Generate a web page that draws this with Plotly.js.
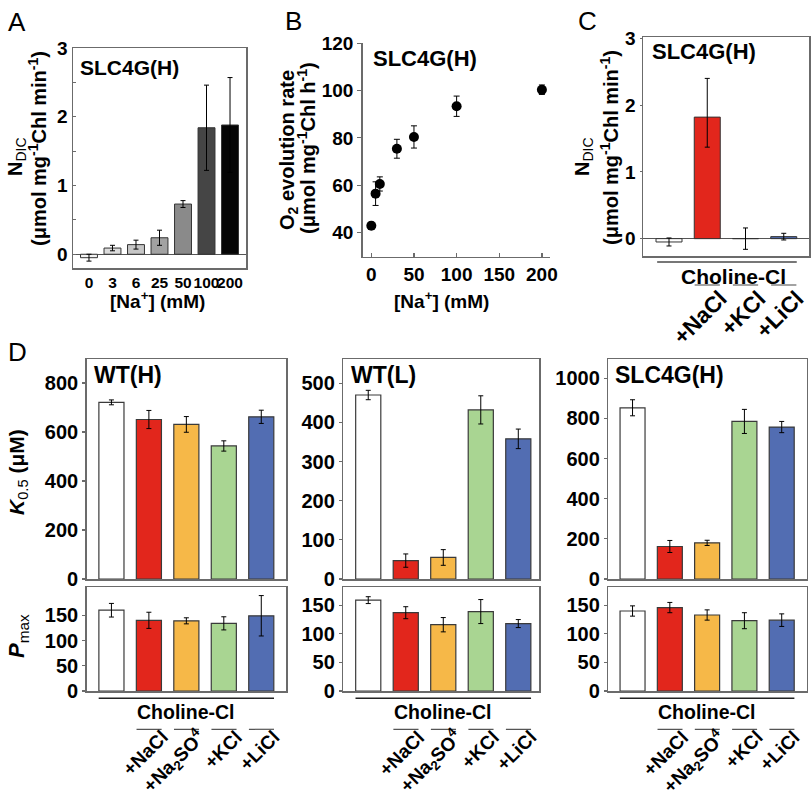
<!DOCTYPE html>
<html><head><meta charset="utf-8">
<script src="https://cdn.plot.ly/plotly-3.0.1.min.js"></script>
<style>html,body{margin:0;padding:0;background:#fff}#chart{width:812px;height:800px}</style>
</head><body><div id="chart"></div>
<script>
// ---------- Panel A ----------
const naLabelsA = ['0', '3', '6', '25', '50', '100', '200'];
const ndicA = [-0.05, 0.09, 0.14, 0.24, 0.73, 1.84, 1.88];
const ndicAErr = [0.05, 0.04, 0.065, 0.11, 0.05, 0.62, 0.69];
const grayA = ['#f4f4f4', '#dcdcdc', '#c6c6c6', '#a2a2a2', '#8a8a8a', '#454545', '#050505'];

// ---------- Panel B ----------
const naB = [0, 5, 10, 30, 50, 100, 200];
const o2B = [42.8, 56.4, 60.5, 75.4, 80.4, 93.4, 100.4];
const o2BErr = [1.5, 5, 3, 4, 4.7, 4.3, 2];
const ticksBx = [0, 50, 100, 150, 200];
const ticksBy = [40, 60, 80, 100, 120];

// ---------- Panel C ----------
const catsC = ['Choline-Cl', '+NaCl', '+KCl', '+LiCl'];
const saltLabelsC = ['+NaCl', '+KCl', '+LiCl'];
const ndicC = [-0.05, 1.82, 0.0, 0.03];
const ndicCErrPlus = [0.06, 0.58, 0.16, 0.05];
const ndicCErrMinus = [0.06, 0.45, 0.16, 0.05];
const colorsC = ['#ffffff', '#e2261c', '#a9d592', '#526db2'];

// ---------- Panel D ----------
const catsD = ['Choline-Cl', '+NaCl', '+Na2SO4', '+KCl', '+LiCl'];
const saltLabelsD = ['+NaCl', '+Na<sub>2</sub>SO<sup>4</sup>', '+KCl', '+LiCl'];
const colorsD = ['#ffffff', '#e2261c', '#f6b848', '#a9d592', '#526db2'];
const strainsD = ['WT(H)', 'WT(L)', 'SLC4G(H)'];
const k05WTH = [721, 651, 631, 543, 662];
const k05WTHErr = [10, 37, 32, 21, 27];
const pmaxWTH = [160, 140, 139, 134, 149];
const pmaxWTHErr = [13.5, 16, 6, 13, 40];
const k05WTL = [470, 47, 55, 432, 358];
const k05WTLErr = [12, 17, 20, 36, 25];
const pmaxWTL = [159, 137, 116, 139, 118];
const pmaxWTLErr = [6, 10.5, 12.5, 21, 7];
const k05SLC = [853, 162, 180, 785, 757];
const k05SLCErr = [40, 30, 13, 60, 28];
const pmaxSLC = [140, 146, 133, 123, 124];
const pmaxSLCErr = [9, 9, 9, 14, 11];
const k05Ticks = [[0, 200, 400, 600, 800], [0, 100, 200, 300, 400, 500], [0, 200, 400, 600, 800, 1000]];
const pmaxTicks = [0, 50, 100, 150];

// ---------- helpers ----------
const W = 812, H = 800;
const fx = p => p / W;
const fy = p => 1 - p / H;
const FONT = 'Arial, "Liberation Sans", Helvetica, sans-serif';
const LINE = '#6b6b6b';
// pixel position of a category index on an axis spanning [x0,x1] px with range r
const idxPx = (x0, x1, r, i) => x0 + (i - r[0]) / (r[1] - r[0]) * (x1 - x0);

const ctx = document.createElement('canvas').getContext('2d');
function labelWidth(html, size) {
  let w = 0;
  const re = /<(sub|sup)>(.*?)<\/\1>/g;
  let last = 0, m;
  const meas = (s, sz) => { ctx.font = 'bold ' + sz + 'px ' + FONT; return ctx.measureText(s).width; };
  while ((m = re.exec(html)) !== null) {
    w += meas(html.slice(last, m.index), size);
    w += meas(m[2], size * 0.7);
    last = re.lastIndex;
  }
  w += meas(html.slice(last), size);
  return w;
}

function axis(extra) {
  return Object.assign({
    showgrid: false, zeroline: false, showline: true, linecolor: LINE, linewidth: 1.5,
    fixedrange: true, tickcolor: LINE, tickwidth: 1.2,
    tickfont: {family: FONT, size: 19, weight: 'bold', color: '#000'}
  }, extra);
}
const annotations = [];
const shapes = [];
function ann(text, x, y, o) {
  o = o || {};
  annotations.push({
    text: text, x: x, y: y, xref: o.xref || 'paper', yref: o.yref || 'paper', showarrow: false,
    xanchor: o.xanchor || 'center', yanchor: o.yanchor || 'middle', textangle: o.angle || 0,
    font: {family: FONT, size: o.size || 19, weight: o.weight || 'bold', color: '#000'}
  });
}
// rotated (-45 deg) label whose rightmost glyph point is near xr px and topmost near yt px
function diagLabel(text, xr, yt, size) {
  const L = labelWidth(text, size);
  const h = 0.72 * size;
  const d = 0.354 * (L + h);
  ann(text, fx(xr - d + 6), fy(yt + d), {angle: -45, size: size});
}
function hline(xref, x0, x1, ypx, color, width) {
  shapes.push({type: 'line', xref: xref, yref: 'paper', x0: x0, x1: x1, y0: fy(ypx), y1: fy(ypx),
    line: {color: color, width: width}});
}
const errStyle = {type: 'data', visible: true, color: '#000', thickness: 1, width: 2.5};

const traces = [];
const layout = {
  width: W, height: H, margin: {l: 0, r: 0, t: 0, b: 0},
  paper_bgcolor: '#fff', plot_bgcolor: 'rgba(0,0,0,0)', showlegend: false,
  font: {family: FONT, color: '#000'}
};

// ---------- A ----------
traces.push({type: 'bar', x: naLabelsA, y: ndicA, xaxis: 'x', yaxis: 'y', width: 0.72,
  marker: {color: grayA, line: {color: '#333', width: 1}},
  error_y: Object.assign({array: ndicAErr}, errStyle)});
layout.xaxis = axis({domain: [fx(73), fx(246)], anchor: 'y', type: 'category', range: [-0.68, 6.68],
  mirror: true, ticks: '', tickangle: 0, tickfont: {family: FONT, size: 15.5, weight: 'bold', color: '#000'}});
layout.yaxis = axis({domain: [fy(268), fy(48)], anchor: 'x', range: [-0.2, 3.0], mirror: true,
  zeroline: true, zerolinecolor: '#555', zerolinewidth: 1.2, tickvals: [0, 1, 2, 3],
  ticks: 'inside', ticklen: 3, minor: {dtick: 0.5, ticks: 'inside', ticklen: 3, tickcolor: LINE}});
ann('SLC4G(H)', fx(78), fy(67), {xanchor: 'left', size: 21});
ann('<b>N</b><sub>DIC</sub>', fx(16), fy(157), {angle: -90, weight: 'normal', size: 20});
ann('(μmol mg<sup>-1</sup>Chl min<sup>-1</sup>)', fx(37), fy(149), {angle: -90, size: 20});
ann('[Na<sup>+</sup>] (mM)', fx(157), fy(300), {size: 19});
ann('A', fx(17), fy(22), {size: 26, weight: 'normal'});

// ---------- B ----------
traces.push({type: 'scatter', mode: 'markers', x: naB, y: o2B, xaxis: 'x2', yaxis: 'y2',
  marker: {size: 10, color: '#000'},
  error_y: Object.assign({array: o2BErr}, errStyle, {width: 3})});
layout.xaxis2 = axis({domain: [fx(362.7), fx(550)], anchor: 'y2', range: [-10.1, 209.5],
  tickvals: ticksBx, ticks: 'inside', ticklen: 4});
layout.yaxis2 = axis({domain: [fy(256.7), fy(42.7)], anchor: 'x2', range: [29.7, 120.3],
  tickvals: ticksBy, ticks: 'outside', ticklen: 4});
ann('SLC4G(H)', fx(371), fy(58), {xanchor: 'left', size: 22});
ann('O<sub>2</sub> evolution rate', fx(288), fy(150), {angle: -90, size: 20});
ann('(μmol mg<sup>-1</sup>Chl h<sup>-1</sup>)', fx(306), fy(148), {angle: -90, size: 20});
ann('[Na<sup>+</sup>] (mM)', fx(441), fy(300), {size: 19});
ann('B', fx(293), fy(21), {size: 26, weight: 'normal'});

// ---------- C ----------
const cX0 = 643, cX1 = 809, cRange = [-0.68, 3.66];
traces.push({type: 'bar', x: catsC, y: ndicC, xaxis: 'x3', yaxis: 'y3', width: 0.68,
  marker: {color: colorsC, line: {color: '#333', width: 1}},
  error_y: Object.assign({array: ndicCErrPlus, arrayminus: ndicCErrMinus, symmetric: false}, errStyle)});
layout.xaxis3 = axis({domain: [fx(cX0), fx(cX1)], anchor: 'y3', type: 'category', range: cRange,
  mirror: true, ticks: '', showticklabels: false});
layout.yaxis3 = axis({domain: [fy(256), fy(37)], anchor: 'x3', range: [-0.26, 3.02], mirror: true,
  zeroline: true, zerolinecolor: '#555', zerolinewidth: 1.2, tickvals: [0, 1, 2, 3], ticks: 'outside', ticklen: 2});
ann('SLC4G(H)', fx(650), fy(52), {xanchor: 'left', size: 22});
ann('<b>N</b><sub>DIC</sub>', fx(583), fy(157), {angle: -90, weight: 'normal', size: 20});
ann('(μmol mg<sup>-1</sup>Chl min<sup>-1</sup>)', fx(609), fy(148), {angle: -90, size: 20});
ann('C', fx(587), fy(21), {size: 26, weight: 'normal'});
hline('x3', -0.31, 3.34, 262, '#777', 1.8);
ann('Choline-Cl', fx(733), fy(276), {size: 21});
saltLabelsC.forEach((lab, j) => {
  const i = j + 1;
  hline('x3', i - 0.33, i + 0.33, 285, '#666', 1.2);
  diagLabel(lab, idxPx(cX0, cX1, cRange, i + 0.33) + 3, 289, 22.5);
});

// ---------- D ----------
const dCols = [
  {x0: 86.7, x1: 286, xr: [-0.66, 4.66], kr: [0, 898], pr: [0, 206], k: k05WTH, ke: k05WTHErr, p: pmaxWTH, pe: pmaxWTHErr},
  {x0: 343.3, x1: 539.3, xr: [-0.665, 4.56], kr: [0, 562], pr: [0, 182], k: k05WTL, ke: k05WTLErr, p: pmaxWTL, pe: pmaxWTLErr},
  {x0: 608.3, x1: 806.7, xr: [-0.65, 4.67], kr: [0, 1096], pr: [0, 182], k: k05SLC, ke: k05SLCErr, p: pmaxSLC, pe: pmaxSLCErr}
];
const titleLeft = [92, 349, 613];
dCols.forEach((c, n) => {
  const ik = 4 + 2 * n, ip = 5 + 2 * n;
  const barStyle = {color: colorsD, line: {color: '#3a3a3a', width: 1.2}};
  traces.push({type: 'bar', x: catsD, y: c.k, xaxis: 'x' + ik, yaxis: 'y' + ik, width: 0.67,
    marker: barStyle, error_y: Object.assign({array: c.ke}, errStyle)});
  traces.push({type: 'bar', x: catsD, y: c.p, xaxis: 'x' + ip, yaxis: 'y' + ip, width: 0.67,
    marker: barStyle, error_y: Object.assign({array: c.pe}, errStyle)});
  layout['xaxis' + ik] = axis({domain: [fx(c.x0), fx(c.x1)], anchor: 'y' + ik, type: 'category', range: c.xr,
    mirror: true, ticks: '', showticklabels: false});
  layout['yaxis' + ik] = axis({domain: [fy(579), fy(359)], anchor: 'x' + ik, range: c.kr, mirror: true,
    tickvals: k05Ticks[n], ticks: 'outside', ticklen: 3, tickfont: {family: FONT, size: 20, weight: 'bold', color: '#000'}});
  layout['xaxis' + ip] = axis({domain: [fx(c.x0), fx(c.x1)], anchor: 'y' + ip, type: 'category', range: c.xr,
    mirror: true, ticks: '', showticklabels: false});
  layout['yaxis' + ip] = axis({domain: [fy(691), fy(587)], anchor: 'x' + ip, range: c.pr, mirror: true,
    tickvals: pmaxTicks, ticks: 'outside', ticklen: 3, tickfont: {family: FONT, size: 20, weight: 'bold', color: '#000'}});
  ann(strainsD[n], fx(titleLeft[n]), fy(375), {xanchor: 'left', size: 23});
  hline('x' + ip, -0.34, 4.34, 698.3, '#222', 1.5);
  ann('Choline-Cl', fx(idxPx(c.x0, c.x1, c.xr, 2)), fy(712), {size: 19.5});
  saltLabelsD.forEach((lab, j) => {
    const i = j + 1;
    hline('x' + ip, i - 0.33, i + 0.34, 729.3, '#555', 1.2);
    diagLabel(lab, idxPx(c.x0, c.x1, c.xr, i + 0.34) + 1, 729, 19);
  });
});
ann('<b><i>K</i></b><sub>0.5</sub><b> (μM)</b>', fx(18), fy(472), {angle: -90, weight: 'normal', size: 21});
ann('<b><i>P</i></b><sub>max</sub>', fx(18), fy(636), {angle: -90, weight: 'normal', size: 22});
ann('D', fx(17), fy(352), {size: 26, weight: 'normal'});

layout.annotations = annotations;
layout.shapes = shapes;
Plotly.newPlot('chart', traces, layout, {staticPlot: true, displayModeBar: false});
</script>
</body></html>
